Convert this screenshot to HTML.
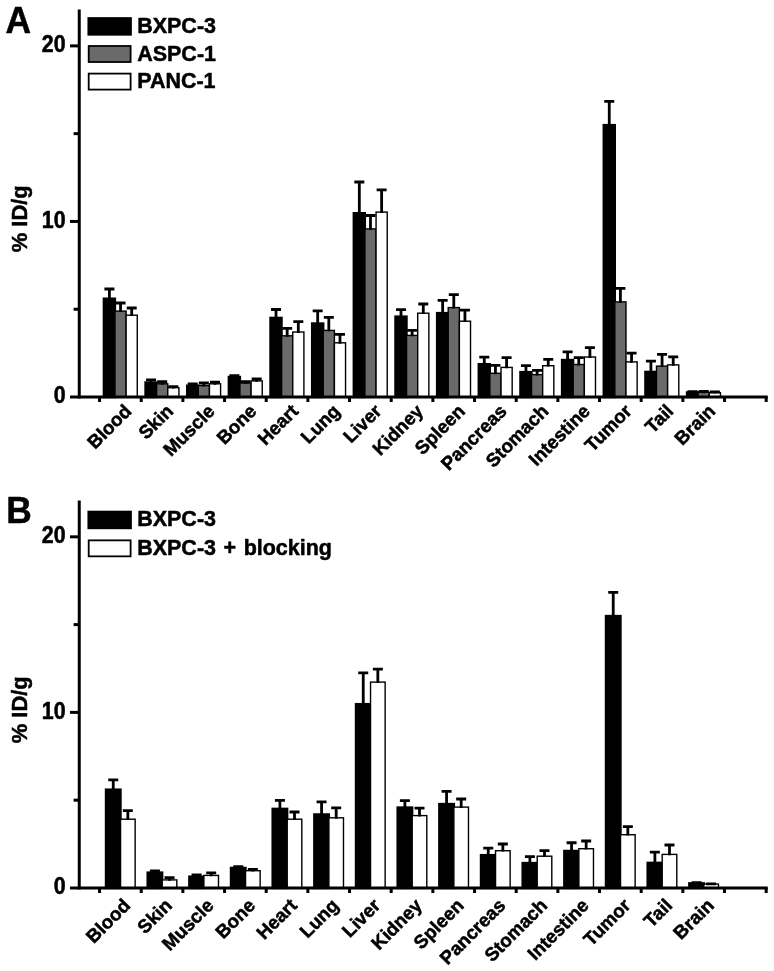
<!DOCTYPE html>
<html lang="en"><head><meta charset="utf-8"><title>Biodistribution</title>
<style>html,body{margin:0;padding:0;background:#fff}svg{display:block}text{font-family:"Liberation Sans",sans-serif;font-weight:bold;fill:#000;stroke:#000;stroke-width:.5px;stroke-linejoin:round}</style></head><body>
<svg width="774" height="971" viewBox="0 0 774 971">
<rect width="774" height="971" fill="#fff"/>
<text transform="translate(5.5 32.9) scale(1 1.055)" font-size="35.4">A</text>
<rect x="103.82" y="298.65" width="11.15" height="98.35" fill="#000" stroke="#000" stroke-width="2.3"/>
<path d="M109.4 299.1V289M104.4 289h10" stroke="#000" stroke-width="2.8" fill="none"/>
<rect x="114.97" y="311.1" width="11.15" height="85.9" fill="#6a6a6a" stroke="#000" stroke-width="1.4"/>
<path d="M120.55 312V303M115.55 303h10" stroke="#000" stroke-width="2.8" fill="none"/>
<rect x="126.12" y="315.2" width="11.15" height="81.8" fill="#fff" stroke="#000" stroke-width="1.4"/>
<path d="M131.7 316.1V308M126.7 308h10" stroke="#000" stroke-width="2.8" fill="none"/>
<rect x="145.48" y="382.45" width="11.15" height="14.55" fill="#000" stroke="#000" stroke-width="2.3"/>
<path d="M151.06 382.9V379.9M146.06 379.9h10" stroke="#000" stroke-width="2.8" fill="none"/>
<rect x="156.63" y="383.8" width="11.15" height="13.2" fill="#6a6a6a" stroke="#000" stroke-width="1.4"/>
<path d="M162.21 384.7V381.6M157.21 381.6h10" stroke="#000" stroke-width="2.8" fill="none"/>
<rect x="167.78" y="387.7" width="11.15" height="9.3" fill="#fff" stroke="#000" stroke-width="1.4"/>
<path d="M173.36 388.6V386.6M168.36 386.6h10" stroke="#000" stroke-width="2.8" fill="none"/>
<rect x="187.13" y="385.65" width="11.15" height="11.35" fill="#000" stroke="#000" stroke-width="2.3"/>
<path d="M192.71 386.1V384M187.71 384h10" stroke="#000" stroke-width="2.8" fill="none"/>
<rect x="198.28" y="385.6" width="11.15" height="11.4" fill="#6a6a6a" stroke="#000" stroke-width="1.4"/>
<path d="M203.86 386.5V383M198.86 383h10" stroke="#000" stroke-width="2.8" fill="none"/>
<rect x="209.44" y="383.8" width="11.15" height="13.2" fill="#fff" stroke="#000" stroke-width="1.4"/>
<path d="M215.01 384.7V382.1M210.01 382.1h10" stroke="#000" stroke-width="2.8" fill="none"/>
<rect x="228.79" y="376.95" width="11.15" height="20.05" fill="#000" stroke="#000" stroke-width="2.3"/>
<path d="M234.37 377.4V375.6M229.37 375.6h10" stroke="#000" stroke-width="2.8" fill="none"/>
<rect x="239.94" y="383" width="11.15" height="14" fill="#6a6a6a" stroke="#000" stroke-width="1.4"/>
<path d="M245.52 383.9V381.6M240.52 381.6h10" stroke="#000" stroke-width="2.8" fill="none"/>
<rect x="251.09" y="380.9" width="11.15" height="16.1" fill="#fff" stroke="#000" stroke-width="1.4"/>
<path d="M256.67 381.8V379M251.67 379h10" stroke="#000" stroke-width="2.8" fill="none"/>
<rect x="270.44" y="317.85" width="11.15" height="79.15" fill="#000" stroke="#000" stroke-width="2.3"/>
<path d="M276.02 318.3V309.5M271.02 309.5h10" stroke="#000" stroke-width="2.8" fill="none"/>
<rect x="281.59" y="335.8" width="11.15" height="61.2" fill="#6a6a6a" stroke="#000" stroke-width="1.4"/>
<path d="M287.17 336.7V328.4M282.17 328.4h10" stroke="#000" stroke-width="2.8" fill="none"/>
<rect x="292.75" y="332" width="11.15" height="65" fill="#fff" stroke="#000" stroke-width="1.4"/>
<path d="M298.32 332.9V321.6M293.32 321.6h10" stroke="#000" stroke-width="2.8" fill="none"/>
<rect x="312.1" y="323.45" width="11.15" height="73.55" fill="#000" stroke="#000" stroke-width="2.3"/>
<path d="M317.68 323.9V310.9M312.68 310.9h10" stroke="#000" stroke-width="2.8" fill="none"/>
<rect x="323.25" y="330.4" width="11.15" height="66.6" fill="#6a6a6a" stroke="#000" stroke-width="1.4"/>
<path d="M328.82 331.3V317.3M323.82 317.3h10" stroke="#000" stroke-width="2.8" fill="none"/>
<rect x="334.4" y="342.8" width="11.15" height="54.2" fill="#fff" stroke="#000" stroke-width="1.4"/>
<path d="M339.98 343.7V334.4M334.98 334.4h10" stroke="#000" stroke-width="2.8" fill="none"/>
<rect x="353.75" y="213.15" width="11.15" height="183.85" fill="#000" stroke="#000" stroke-width="2.3"/>
<path d="M359.33 213.6V182M354.33 182h10" stroke="#000" stroke-width="2.8" fill="none"/>
<rect x="364.9" y="228.9" width="11.15" height="168.1" fill="#6a6a6a" stroke="#000" stroke-width="1.4"/>
<path d="M370.48 229.8V215.5M365.48 215.5h10" stroke="#000" stroke-width="2.8" fill="none"/>
<rect x="376.06" y="212.1" width="11.15" height="184.9" fill="#fff" stroke="#000" stroke-width="1.4"/>
<path d="M381.63 213V189.9M376.63 189.9h10" stroke="#000" stroke-width="2.8" fill="none"/>
<rect x="395.41" y="316.55" width="11.15" height="80.45" fill="#000" stroke="#000" stroke-width="2.3"/>
<path d="M400.99 317V309.6M395.99 309.6h10" stroke="#000" stroke-width="2.8" fill="none"/>
<rect x="406.56" y="335.4" width="11.15" height="61.6" fill="#6a6a6a" stroke="#000" stroke-width="1.4"/>
<path d="M412.13 336.3V330.4M407.13 330.4h10" stroke="#000" stroke-width="2.8" fill="none"/>
<rect x="417.71" y="313.2" width="11.15" height="83.8" fill="#fff" stroke="#000" stroke-width="1.4"/>
<path d="M423.29 314.1V304M418.29 304h10" stroke="#000" stroke-width="2.8" fill="none"/>
<rect x="437.06" y="313.05" width="11.15" height="83.95" fill="#000" stroke="#000" stroke-width="2.3"/>
<path d="M442.64 313.5V300.4M437.64 300.4h10" stroke="#000" stroke-width="2.8" fill="none"/>
<rect x="448.21" y="307.6" width="11.15" height="89.4" fill="#6a6a6a" stroke="#000" stroke-width="1.4"/>
<path d="M453.79 308.5V294.7M448.79 294.7h10" stroke="#000" stroke-width="2.8" fill="none"/>
<rect x="459.37" y="321.2" width="11.15" height="75.8" fill="#fff" stroke="#000" stroke-width="1.4"/>
<path d="M464.94 322.1V310.1M459.94 310.1h10" stroke="#000" stroke-width="2.8" fill="none"/>
<rect x="478.72" y="364.15" width="11.15" height="32.85" fill="#000" stroke="#000" stroke-width="2.3"/>
<path d="M484.29 364.6V357.2M479.29 357.2h10" stroke="#000" stroke-width="2.8" fill="none"/>
<rect x="489.87" y="373.3" width="11.15" height="23.7" fill="#6a6a6a" stroke="#000" stroke-width="1.4"/>
<path d="M495.44 374.2V365.3M490.44 365.3h10" stroke="#000" stroke-width="2.8" fill="none"/>
<rect x="501.02" y="367.4" width="11.15" height="29.6" fill="#fff" stroke="#000" stroke-width="1.4"/>
<path d="M506.59 368.3V357.7M501.59 357.7h10" stroke="#000" stroke-width="2.8" fill="none"/>
<rect x="520.38" y="372.05" width="11.15" height="24.95" fill="#000" stroke="#000" stroke-width="2.3"/>
<path d="M525.95 372.5V365.6M520.95 365.6h10" stroke="#000" stroke-width="2.8" fill="none"/>
<rect x="531.52" y="374.6" width="11.15" height="22.4" fill="#6a6a6a" stroke="#000" stroke-width="1.4"/>
<path d="M537.1 375.5V370.3M532.1 370.3h10" stroke="#000" stroke-width="2.8" fill="none"/>
<rect x="542.67" y="365.7" width="11.15" height="31.3" fill="#fff" stroke="#000" stroke-width="1.4"/>
<path d="M548.25 366.6V359.4M543.25 359.4h10" stroke="#000" stroke-width="2.8" fill="none"/>
<rect x="562.03" y="359.95" width="11.15" height="37.05" fill="#000" stroke="#000" stroke-width="2.3"/>
<path d="M567.61 360.4V351.8M562.61 351.8h10" stroke="#000" stroke-width="2.8" fill="none"/>
<rect x="573.18" y="364.5" width="11.15" height="32.5" fill="#6a6a6a" stroke="#000" stroke-width="1.4"/>
<path d="M578.76 365.4V357.7M573.76 357.7h10" stroke="#000" stroke-width="2.8" fill="none"/>
<rect x="584.33" y="357" width="11.15" height="40" fill="#fff" stroke="#000" stroke-width="1.4"/>
<path d="M589.91 357.9V347.6M584.91 347.6h10" stroke="#000" stroke-width="2.8" fill="none"/>
<rect x="603.69" y="125.05" width="11.15" height="271.95" fill="#000" stroke="#000" stroke-width="2.3"/>
<path d="M609.26 125.5V101.4M604.26 101.4h10" stroke="#000" stroke-width="2.8" fill="none"/>
<rect x="614.84" y="301.9" width="11.15" height="95.1" fill="#6a6a6a" stroke="#000" stroke-width="1.4"/>
<path d="M620.41 302.8V288.4M615.41 288.4h10" stroke="#000" stroke-width="2.8" fill="none"/>
<rect x="625.99" y="361.9" width="11.15" height="35.1" fill="#fff" stroke="#000" stroke-width="1.4"/>
<path d="M631.56 362.8V353.1M626.56 353.1h10" stroke="#000" stroke-width="2.8" fill="none"/>
<rect x="645.34" y="371.85" width="11.15" height="25.15" fill="#000" stroke="#000" stroke-width="2.3"/>
<path d="M650.92 372.3V361.1M645.92 361.1h10" stroke="#000" stroke-width="2.8" fill="none"/>
<rect x="656.49" y="366.1" width="11.15" height="30.9" fill="#6a6a6a" stroke="#000" stroke-width="1.4"/>
<path d="M662.07 367V354.4M657.07 354.4h10" stroke="#000" stroke-width="2.8" fill="none"/>
<rect x="667.64" y="364.9" width="11.15" height="32.1" fill="#fff" stroke="#000" stroke-width="1.4"/>
<path d="M673.22 365.8V356.9M668.22 356.9h10" stroke="#000" stroke-width="2.8" fill="none"/>
<rect x="687" y="392.35" width="11.15" height="4.65" fill="#000" stroke="#000" stroke-width="2.3"/>
<path d="M692.57 392.8V391.6M687.57 391.6h10" stroke="#000" stroke-width="2.8" fill="none"/>
<rect x="698.15" y="392.3" width="11.15" height="4.7" fill="#6a6a6a" stroke="#000" stroke-width="1.4"/>
<path d="M703.72 393.2V391.4M698.72 391.4h10" stroke="#000" stroke-width="2.8" fill="none"/>
<rect x="709.3" y="392.7" width="11.15" height="4.3" fill="#fff" stroke="#000" stroke-width="1.4"/>
<path d="M714.87 393.6V391.8M709.87 391.8h10" stroke="#000" stroke-width="2.8" fill="none"/>
<g stroke="#000" stroke-width="3" fill="none">
<path d="M79.25 9.6V398.5" stroke-linecap="butt"/>
<path d="M70 397H767.8"/>
<path d="M70 221.44H79"/>
<path d="M70 45.88H79"/>
<path d="M73.6 309.22H79"/>
<path d="M73.6 133.66H79"/>
<path d="M99.55 397v5M141.22 397v5M182.88 397v5M224.55 397v5M266.21 397v5M307.88 397v5M349.54 397v5M391.2 397v5M432.87 397v5M474.54 397v5M516.2 397v5M557.87 397v5M599.53 397v5M641.19 397v5M682.86 397v5M724.52 397v5M766.19 397v5"/>
</g>
<text transform="translate(65.6 402.8) scale(1 1.09)" text-anchor="end" font-size="21.4">0</text>
<text transform="translate(65.6 227.74) scale(1 1.09)" text-anchor="end" font-size="21.4">10</text>
<text transform="translate(65.6 52.18) scale(1 1.09)" text-anchor="end" font-size="21.4">20</text>
<text transform="translate(27.2 218.8) rotate(-90)" text-anchor="middle" font-size="21.9">% ID/g</text>
<text transform="translate(132.59 412.3) rotate(-45)" text-anchor="end" font-size="18.8">Blood</text>
<text transform="translate(174.28 412.3) rotate(-45)" text-anchor="end" font-size="18.8">Skin</text>
<text transform="translate(215.97 412.3) rotate(-45)" text-anchor="end" font-size="18.8">Muscle</text>
<text transform="translate(257.66 412.3) rotate(-45)" text-anchor="end" font-size="18.8">Bone</text>
<text transform="translate(299.35 412.3) rotate(-45)" text-anchor="end" font-size="18.8">Heart</text>
<text transform="translate(341.04 412.3) rotate(-45)" text-anchor="end" font-size="18.8">Lung</text>
<text transform="translate(382.74 412.3) rotate(-45)" text-anchor="end" font-size="18.8">Liver</text>
<text transform="translate(424.42 412.3) rotate(-45)" text-anchor="end" font-size="18.8">Kidney</text>
<text transform="translate(466.12 412.3) rotate(-45)" text-anchor="end" font-size="18.8">Spleen</text>
<text transform="translate(507.8 412.3) rotate(-45)" text-anchor="end" font-size="18.8">Pancreas</text>
<text transform="translate(549.5 412.3) rotate(-45)" text-anchor="end" font-size="18.8">Stomach</text>
<text transform="translate(591.18 412.3) rotate(-45)" text-anchor="end" font-size="18.8">Intestine</text>
<text transform="translate(632.88 412.3) rotate(-45)" text-anchor="end" font-size="18.8">Tumor</text>
<text transform="translate(674.56 412.3) rotate(-45)" text-anchor="end" font-size="18.8">Tail</text>
<text transform="translate(716.25 412.3) rotate(-45)" text-anchor="end" font-size="18.8">Brain</text>
<rect x="88.7" y="18.4" width="41.9" height="16" fill="#000" stroke="#000" stroke-width="2.5"/>
<text transform="translate(137.2 32.9) scale(1 1.035)" font-size="21.5" style="word-spacing:1.6px">BXPC-3</text>
<rect x="88.7" y="46" width="41.9" height="16" fill="#6a6a6a" stroke="#000" stroke-width="1.8"/>
<text transform="translate(137.2 60.5) scale(1 1.035)" font-size="21.5" style="word-spacing:1.6px">ASPC-1</text>
<rect x="88.7" y="73.6" width="41.9" height="16" fill="#fff" stroke="#000" stroke-width="1.8"/>
<text transform="translate(137.2 88.1) scale(1 1.035)" font-size="21.5" style="word-spacing:1.6px">PANC-1</text>
<text transform="translate(6.2 523) scale(1 1.055)" font-size="35.4">B</text>
<rect x="105.95" y="789.6" width="14.6" height="98.35" fill="#000" stroke="#000" stroke-width="2.3"/>
<path d="M113.25 790.05V779.95M108.25 779.95h10" stroke="#000" stroke-width="2.8" fill="none"/>
<rect x="120.55" y="819.2" width="14.6" height="68.75" fill="#fff" stroke="#000" stroke-width="1.4"/>
<path d="M127.85 820.1V810.7M122.85 810.7h10" stroke="#000" stroke-width="2.8" fill="none"/>
<rect x="147.62" y="872.55" width="14.6" height="15.4" fill="#000" stroke="#000" stroke-width="2.3"/>
<path d="M154.92 873V870.9M149.92 870.9h10" stroke="#000" stroke-width="2.8" fill="none"/>
<rect x="162.22" y="879.9" width="14.6" height="8.05" fill="#fff" stroke="#000" stroke-width="1.4"/>
<path d="M169.52 880.8V877.6M164.52 877.6h10" stroke="#000" stroke-width="2.8" fill="none"/>
<rect x="189.28" y="876.6" width="14.6" height="11.35" fill="#000" stroke="#000" stroke-width="2.3"/>
<path d="M196.58 877.05V874.95M191.58 874.95h10" stroke="#000" stroke-width="2.8" fill="none"/>
<rect x="203.88" y="875.4" width="14.6" height="12.55" fill="#fff" stroke="#000" stroke-width="1.4"/>
<path d="M211.18 876.3V872.8M206.18 872.8h10" stroke="#000" stroke-width="2.8" fill="none"/>
<rect x="230.94" y="867.9" width="14.6" height="20.05" fill="#000" stroke="#000" stroke-width="2.3"/>
<path d="M238.25 868.35V866.55M233.25 866.55h10" stroke="#000" stroke-width="2.8" fill="none"/>
<rect x="245.54" y="870.7" width="14.6" height="17.25" fill="#fff" stroke="#000" stroke-width="1.4"/>
<path d="M252.84 871.6V869.4M247.84 869.4h10" stroke="#000" stroke-width="2.8" fill="none"/>
<rect x="272.61" y="808.8" width="14.6" height="79.15" fill="#000" stroke="#000" stroke-width="2.3"/>
<path d="M279.91 809.25V800.45M274.91 800.45h10" stroke="#000" stroke-width="2.8" fill="none"/>
<rect x="287.21" y="819.2" width="14.6" height="68.75" fill="#fff" stroke="#000" stroke-width="1.4"/>
<path d="M294.51 820.1V812M289.51 812h10" stroke="#000" stroke-width="2.8" fill="none"/>
<rect x="314.27" y="814.4" width="14.6" height="73.55" fill="#000" stroke="#000" stroke-width="2.3"/>
<path d="M321.57 814.85V801.85M316.57 801.85h10" stroke="#000" stroke-width="2.8" fill="none"/>
<rect x="328.88" y="817.8" width="14.6" height="70.15" fill="#fff" stroke="#000" stroke-width="1.4"/>
<path d="M336.18 818.7V807.8M331.18 807.8h10" stroke="#000" stroke-width="2.8" fill="none"/>
<rect x="355.94" y="704.1" width="14.6" height="183.85" fill="#000" stroke="#000" stroke-width="2.3"/>
<path d="M363.24 704.55V672.95M358.24 672.95h10" stroke="#000" stroke-width="2.8" fill="none"/>
<rect x="370.54" y="682.1" width="14.6" height="205.85" fill="#fff" stroke="#000" stroke-width="1.4"/>
<path d="M377.84 683V669.1M372.84 669.1h10" stroke="#000" stroke-width="2.8" fill="none"/>
<rect x="397.6" y="807.5" width="14.6" height="80.45" fill="#000" stroke="#000" stroke-width="2.3"/>
<path d="M404.9 807.95V800.55M399.9 800.55h10" stroke="#000" stroke-width="2.8" fill="none"/>
<rect x="412.2" y="815.6" width="14.6" height="72.35" fill="#fff" stroke="#000" stroke-width="1.4"/>
<path d="M419.5 816.5V808.1M414.5 808.1h10" stroke="#000" stroke-width="2.8" fill="none"/>
<rect x="439.27" y="804" width="14.6" height="83.95" fill="#000" stroke="#000" stroke-width="2.3"/>
<path d="M446.57 804.45V791.35M441.57 791.35h10" stroke="#000" stroke-width="2.8" fill="none"/>
<rect x="453.87" y="807.1" width="14.6" height="80.85" fill="#fff" stroke="#000" stroke-width="1.4"/>
<path d="M461.17 808V799M456.17 799h10" stroke="#000" stroke-width="2.8" fill="none"/>
<rect x="480.94" y="855.1" width="14.6" height="32.85" fill="#000" stroke="#000" stroke-width="2.3"/>
<path d="M488.24 855.55V848.15M483.24 848.15h10" stroke="#000" stroke-width="2.8" fill="none"/>
<rect x="495.54" y="850.7" width="14.6" height="37.25" fill="#fff" stroke="#000" stroke-width="1.4"/>
<path d="M502.84 851.6V844M497.84 844h10" stroke="#000" stroke-width="2.8" fill="none"/>
<rect x="522.6" y="863" width="14.6" height="24.95" fill="#000" stroke="#000" stroke-width="2.3"/>
<path d="M529.9 863.45V856.55M524.9 856.55h10" stroke="#000" stroke-width="2.8" fill="none"/>
<rect x="537.2" y="856.2" width="14.6" height="31.75" fill="#fff" stroke="#000" stroke-width="1.4"/>
<path d="M544.5 857.1V850.7M539.5 850.7h10" stroke="#000" stroke-width="2.8" fill="none"/>
<rect x="564.26" y="850.9" width="14.6" height="37.05" fill="#000" stroke="#000" stroke-width="2.3"/>
<path d="M571.56 851.35V842.75M566.56 842.75h10" stroke="#000" stroke-width="2.8" fill="none"/>
<rect x="578.87" y="848.7" width="14.6" height="39.25" fill="#fff" stroke="#000" stroke-width="1.4"/>
<path d="M586.16 849.6V841M581.16 841h10" stroke="#000" stroke-width="2.8" fill="none"/>
<rect x="605.93" y="616" width="14.6" height="271.95" fill="#000" stroke="#000" stroke-width="2.3"/>
<path d="M613.23 616.45V592.35M608.23 592.35h10" stroke="#000" stroke-width="2.8" fill="none"/>
<rect x="620.53" y="834.7" width="14.6" height="53.25" fill="#fff" stroke="#000" stroke-width="1.4"/>
<path d="M627.83 835.6V826.6M622.83 826.6h10" stroke="#000" stroke-width="2.8" fill="none"/>
<rect x="647.6" y="862.8" width="14.6" height="25.15" fill="#000" stroke="#000" stroke-width="2.3"/>
<path d="M654.89 863.25V852.05M649.89 852.05h10" stroke="#000" stroke-width="2.8" fill="none"/>
<rect x="662.2" y="854.4" width="14.6" height="33.55" fill="#fff" stroke="#000" stroke-width="1.4"/>
<path d="M669.5 855.3V845M664.5 845h10" stroke="#000" stroke-width="2.8" fill="none"/>
<rect x="689.26" y="883.3" width="14.6" height="4.65" fill="#000" stroke="#000" stroke-width="2.3"/>
<path d="M696.56 883.75V882.55M691.56 882.55h10" stroke="#000" stroke-width="2.8" fill="none"/>
<rect x="703.86" y="884.1" width="14.6" height="3.85" fill="#fff" stroke="#000" stroke-width="1.4"/>
<path d="M711.16 885V883.8M706.16 883.8h10" stroke="#000" stroke-width="2.8" fill="none"/>
<g stroke="#000" stroke-width="3" fill="none">
<path d="M79.25 500.55V889.45" stroke-linecap="butt"/>
<path d="M70 887.95H767.8"/>
<path d="M70 712.39H79"/>
<path d="M70 536.83H79"/>
<path d="M73.6 800.17H79"/>
<path d="M73.6 624.61H79"/>
<path d="M99.55 887.95v5M141.22 887.95v5M182.88 887.95v5M224.55 887.95v5M266.21 887.95v5M307.88 887.95v5M349.54 887.95v5M391.2 887.95v5M432.87 887.95v5M474.54 887.95v5M516.2 887.95v5M557.87 887.95v5M599.53 887.95v5M641.19 887.95v5M682.86 887.95v5M724.52 887.95v5M766.19 887.95v5"/>
</g>
<text transform="translate(65.6 893.75) scale(1 1.09)" text-anchor="end" font-size="21.4">0</text>
<text transform="translate(65.6 718.69) scale(1 1.09)" text-anchor="end" font-size="21.4">10</text>
<text transform="translate(65.6 543.13) scale(1 1.09)" text-anchor="end" font-size="21.4">20</text>
<text transform="translate(27.2 709.75) rotate(-90)" text-anchor="middle" font-size="21.9">% ID/g</text>
<text transform="translate(131.4 906.65) rotate(-45)" text-anchor="end" font-size="18.8">Blood</text>
<text transform="translate(173.08 906.65) rotate(-45)" text-anchor="end" font-size="18.8">Skin</text>
<text transform="translate(214.77 906.65) rotate(-45)" text-anchor="end" font-size="18.8">Muscle</text>
<text transform="translate(256.46 906.65) rotate(-45)" text-anchor="end" font-size="18.8">Bone</text>
<text transform="translate(298.15 906.65) rotate(-45)" text-anchor="end" font-size="18.8">Heart</text>
<text transform="translate(339.84 906.65) rotate(-45)" text-anchor="end" font-size="18.8">Lung</text>
<text transform="translate(381.54 906.65) rotate(-45)" text-anchor="end" font-size="18.8">Liver</text>
<text transform="translate(423.22 906.65) rotate(-45)" text-anchor="end" font-size="18.8">Kidney</text>
<text transform="translate(464.92 906.65) rotate(-45)" text-anchor="end" font-size="18.8">Spleen</text>
<text transform="translate(506.6 906.65) rotate(-45)" text-anchor="end" font-size="18.8">Pancreas</text>
<text transform="translate(548.29 906.65) rotate(-45)" text-anchor="end" font-size="18.8">Stomach</text>
<text transform="translate(589.98 906.65) rotate(-45)" text-anchor="end" font-size="18.8">Intestine</text>
<text transform="translate(631.67 906.65) rotate(-45)" text-anchor="end" font-size="18.8">Tumor</text>
<text transform="translate(673.36 906.65) rotate(-45)" text-anchor="end" font-size="18.8">Tail</text>
<text transform="translate(715.05 906.65) rotate(-45)" text-anchor="end" font-size="18.8">Brain</text>
<rect x="88.7" y="511.95" width="41.9" height="16" fill="#000" stroke="#000" stroke-width="2.5"/>
<text transform="translate(137.2 526.45) scale(1 1.035)" font-size="21.5" style="word-spacing:1.6px">BXPC-3</text>
<rect x="88.7" y="540.35" width="41.9" height="16" fill="#fff" stroke="#000" stroke-width="1.8"/>
<text transform="translate(137.2 554.85) scale(1 1.035)" font-size="21.5" style="word-spacing:1.6px">BXPC-3 + blocking</text>
</svg></body></html>
